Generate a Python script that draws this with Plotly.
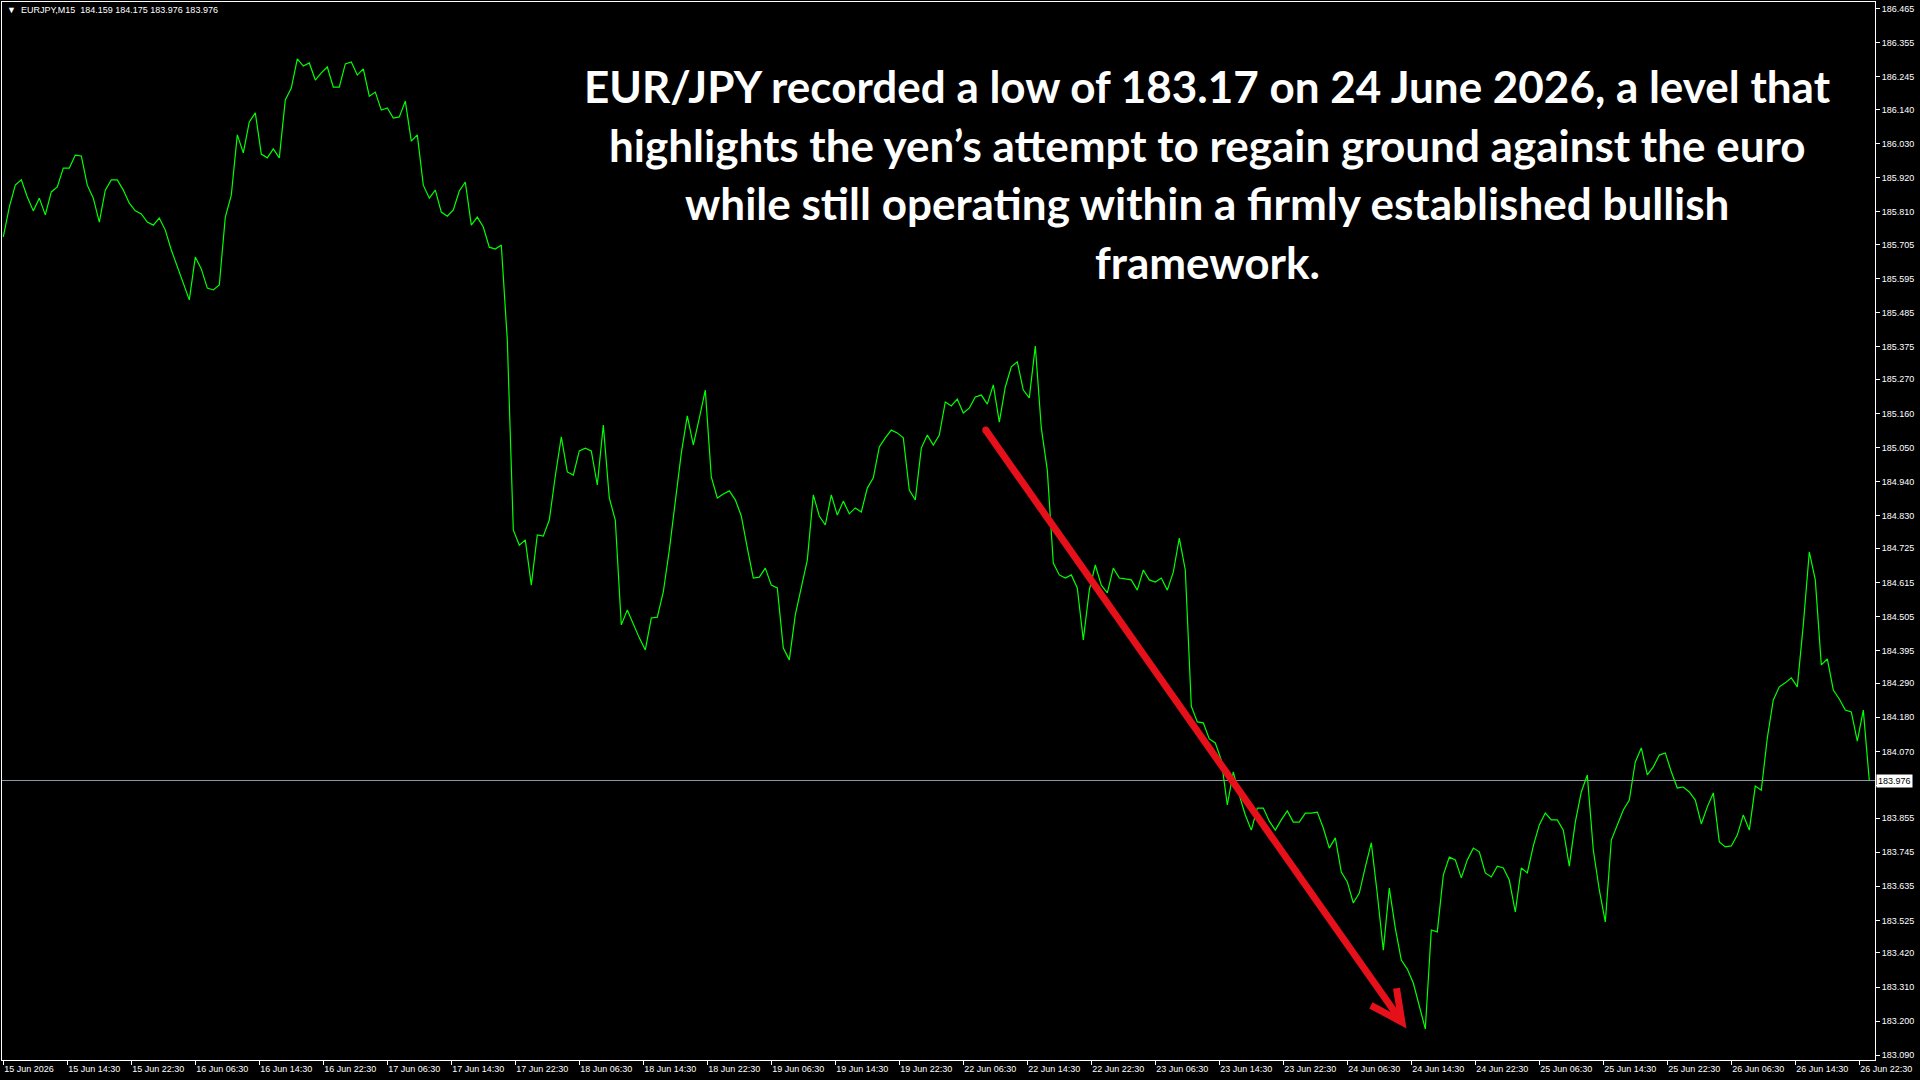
import plotly.graph_objects as go

# ---------------- data ----------------
symbol_header = "▼  EURJPY,M15  184.159 184.175 183.976 183.976"

# M15 bar index (every 3rd bar sampled) and close price
bar_index = list(range(0, 934, 3))
close_prices = [
    185.729, 185.825, 185.896, 185.913, 185.858, 185.813, 185.854, 185.800, 185.874, 185.890,
    185.951, 185.951, 185.993, 185.990, 185.896, 185.854, 185.777, 185.880, 185.913, 185.913,
    185.880, 185.838, 185.813, 185.803, 185.777, 185.767, 185.790, 185.751, 185.687, 185.635,
    185.580, 185.526, 185.664, 185.626, 185.564, 185.558, 185.574, 185.793, 185.864, 186.058,
    186.000, 186.100, 186.129, 185.996, 185.984, 186.013, 185.984, 186.171, 186.209, 186.303,
    186.280, 186.290, 186.235, 186.258, 186.277, 186.212, 186.212, 186.287, 186.293, 186.251,
    186.271, 186.183, 186.196, 186.138, 186.145, 186.112, 186.116, 186.167, 186.038, 186.058,
    185.896, 185.854, 185.880, 185.809, 185.796, 185.816, 185.877, 185.906, 185.767, 185.793,
    185.761, 185.696, 185.690, 185.703, 185.397, 184.784, 184.735, 184.752, 184.606, 184.768,
    184.764, 184.816, 184.958, 185.084, 184.971, 184.961, 185.039, 185.048, 185.039, 184.929,
    185.122, 184.887, 184.816, 184.478, 184.526, 184.478, 184.436, 184.397, 184.500, 184.503,
    184.584, 184.719, 184.881, 185.032, 185.152, 185.058, 185.145, 185.235, 184.955, 184.887,
    184.900, 184.910, 184.881, 184.829, 184.726, 184.629, 184.632, 184.661, 184.606, 184.597,
    184.403, 184.365, 184.510, 184.600, 184.687, 184.897, 184.829, 184.800, 184.897, 184.832,
    184.877, 184.836, 184.855, 184.842, 184.919, 184.952, 185.052, 185.081, 185.106, 185.097,
    185.081, 184.913, 184.881, 185.048, 185.090, 185.058, 185.090, 185.197, 185.184, 185.206,
    185.161, 185.177, 185.213, 185.219, 185.190, 185.252, 185.132, 185.245, 185.310, 185.326,
    185.235, 185.210, 185.377, 185.113, 184.977, 184.677, 184.639, 184.629, 184.639, 184.597,
    184.429, 184.590, 184.671, 184.606, 184.581, 184.661, 184.629, 184.626, 184.623, 184.590,
    184.655, 184.623, 184.616, 184.629, 184.590, 184.648, 184.758, 184.655, 184.216, 184.165,
    184.162, 184.110, 184.097, 184.042, 183.897, 184.004, 183.929, 183.865, 183.816, 183.887,
    183.887, 183.845, 183.816, 183.849, 183.878, 183.842, 183.842, 183.871, 183.871, 183.874,
    183.823, 183.758, 183.791, 183.681, 183.649, 183.581, 183.613, 183.697, 183.775, 183.610,
    183.429, 183.629, 183.500, 183.397, 183.368, 183.323, 183.246, 183.175, 183.494, 183.488,
    183.671, 183.729, 183.720, 183.662, 183.720, 183.758, 183.746, 183.678, 183.665, 183.700,
    183.694, 183.655, 183.552, 183.694, 183.678, 183.765, 183.833, 183.871, 183.849, 183.849,
    183.816, 183.700, 183.842, 183.939, 183.994, 183.752, 183.623, 183.520, 183.784, 183.833,
    183.881, 183.913, 184.036, 184.081, 183.994, 184.020, 184.058, 184.065, 184.004, 183.952,
    183.955, 183.939, 183.913, 183.836, 183.891, 183.936, 183.778, 183.762, 183.765, 183.800,
    183.865, 183.816, 183.958, 183.945, 184.113, 184.236, 184.278, 184.291, 184.307, 184.278,
    184.478, 184.713, 184.623, 184.349, 184.368, 184.268, 184.239, 184.203, 184.197, 184.103,
    184.203, 183.976,
]

x_tick_bars = [32 * j for j in range(30)]
x_tick_labels = [
    "15 Jun 2026", "15 Jun 14:30", "15 Jun 22:30", "16 Jun 06:30", "16 Jun 14:30",
    "16 Jun 22:30", "17 Jun 06:30", "17 Jun 14:30", "17 Jun 22:30", "18 Jun 06:30",
    "18 Jun 14:30", "18 Jun 22:30", "19 Jun 06:30", "19 Jun 14:30", "19 Jun 22:30",
    "22 Jun 06:30", "22 Jun 14:30", "22 Jun 22:30", "23 Jun 06:30", "23 Jun 14:30",
    "23 Jun 22:30", "24 Jun 06:30", "24 Jun 14:30", "24 Jun 22:30", "25 Jun 06:30",
    "25 Jun 14:30", "25 Jun 22:30", "26 Jun 06:30", "26 Jun 14:30", "26 Jun 22:30",
]

y_tick_values = [
    186.465, 186.355, 186.245, 186.140, 186.030, 185.920, 185.810, 185.705,
    185.595, 185.485, 185.375, 185.270, 185.160, 185.050, 184.940, 184.830,
    184.725, 184.615, 184.505, 184.395, 184.290, 184.180, 184.070, 183.960,
    183.855, 183.745, 183.635, 183.525, 183.420, 183.310, 183.200, 183.090,
]

annotation_lines = [
    "EUR/JPY recorded a low of 183.17 on 24 June 2026, a level that",
    "highlights the yen’s attempt to regain ground against the euro",
    "while still operating within a firmly established bullish",
    "framework.",
]

# ---------------- figure ----------------
FONT = "Liberation Sans"
last_price = close_prices[-1]

fig = go.Figure()
fig.add_trace(go.Scatter(
    x=bar_index, y=close_prices, mode="lines",
    line=dict(color="#00ff00", width=1.2, shape="linear"),
    hoverinfo="skip", showlegend=False,
))

# current price line
fig.add_shape(type="line", xref="paper", x0=0, x1=1, yref="y", y0=last_price, y1=last_price,
              line=dict(color="#8c96a8", width=1), layer="below")

# red arrow (drawn annotation)
arrow_start = (491.2, 185.106)
arrow_tip = (699.3, 183.197)
wing_a = (683.8, 183.251)
wing_b = (696.6, 183.306)
RED = "#e5101a"
fig.add_shape(type="line", xref="x", yref="y",
              x0=arrow_start[0], y0=arrow_start[1], x1=arrow_tip[0], y1=arrow_tip[1],
              line=dict(color=RED, width=7))
fig.add_shape(type="path", xref="x", yref="y",
              path=f"M {wing_a[0]},{wing_a[1]} L {arrow_tip[0]},{arrow_tip[1]} L {wing_b[0]},{wing_b[1]}",
              line=dict(color=RED, width=7))
fig.add_shape(type="circle", xref="x", yref="y", xsizemode="pixel", ysizemode="pixel",
              xanchor=arrow_start[0], yanchor=arrow_start[1], x0=-3.5, x1=3.5, y0=-3.5, y1=3.5,
              fillcolor=RED, line=dict(width=0))

annotations = []
# header
annotations.append(dict(xref="paper", yref="paper", x=0, y=1, xanchor="left", yanchor="top",
                        xshift=3, yshift=-1, text=symbol_header, showarrow=False,
                        font=dict(family=FONT, size=9, color="white")))
# current price label
annotations.append(dict(xref="paper", yref="y", x=1, y=last_price, xanchor="left", yanchor="middle",
                        xshift=1, text=f"{last_price:.3f}", showarrow=False, bgcolor="white",
                        borderpad=1, font=dict(family=FONT, size=9, color="black")))
# big commentary text
line_y = [0.9206, 0.8648, 0.8100, 0.7543]
for txt, yy in zip(annotation_lines, line_y):
    annotations.append(dict(xref="paper", yref="paper", x=0.6434, y=yy, xanchor="center",
                            yanchor="middle", text=f"<b>{txt}</b>", showarrow=False,
                            font=dict(family="Lato", size=44, color="white")))

# the tick label hidden behind the current-price box is left blank
y_tick_text = ["" if abs(v - last_price) < 0.03 else f"{v:.3f}" for v in y_tick_values]

fig.update_layout(
    width=1920, height=1080,
    paper_bgcolor="black", plot_bgcolor="black",
    margin=dict(l=2, r=45, t=2, b=20, pad=0),
    showlegend=False,
    annotations=annotations,
    xaxis=dict(
        range=[-0.65, 935.85], tickmode="array", tickvals=x_tick_bars, ticktext=x_tick_labels,
        ticks="outside", ticklen=4, tickcolor="white", tickwidth=1,
        ticklabelposition="outside right",
        showline=True, mirror=True, linecolor="white", linewidth=1,
        showgrid=False, zeroline=False,
        tickfont=dict(family=FONT, size=9, color="white"),
    ),
    yaxis=dict(
        side="right", range=[183.0747, 186.4866], tickmode="array", tickvals=y_tick_values,
        ticktext=y_tick_text,
        ticks="outside", ticklen=4, tickcolor="white", tickwidth=1,
        showline=True, mirror=True, linecolor="white", linewidth=1,
        showgrid=False, zeroline=False,
        tickfont=dict(family=FONT, size=9, color="white"),
    ),
)

fig.write_html("out.html")
